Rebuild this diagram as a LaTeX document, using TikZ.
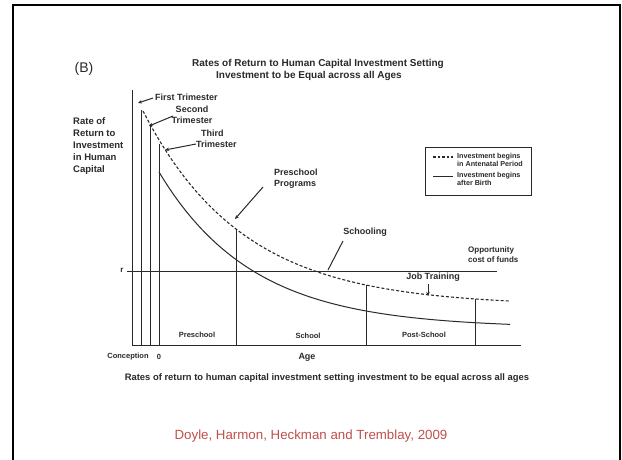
\documentclass[tikz,border=0pt]{standalone}
\usepackage{fontspec}
\setmainfont{Liberation Sans}
\usetikzlibrary{arrows.meta}
\definecolor{ink}{HTML}{2A2A2A}
\definecolor{citered}{HTML}{C0504D}
\tikzset{
  lbl/.style={font=\fontsize{9}{10.5}\selectfont\bfseries, text=ink, inner sep=0pt},
  smalllbl/.style={font=\fontsize{7.5}{8.5}\selectfont\bfseries, text=ink, inner sep=0pt},
  leglbl/.style={font=\fontsize{7.2}{8.4}\selectfont\bfseries, text=ink, inner sep=0pt, align=left, anchor=north west},
  graphline/.style={draw=ink, line width=1pt},
  dashcurve/.style={draw=ink, line width=1.1pt, dash pattern=on 3pt off 2pt},
  arr/.style={draw=ink, line width=1pt, -{Stealth[length=4pt,width=3.5pt]}}
}
\begin{document}
\begin{tikzpicture}[x=1pt,y=-1pt]
\useasboundingbox (0,0) rectangle (622,459);
\fill[white] (0,0) rectangle (622,459);
% slide frame
\draw[line width=2pt] (13,462) -- (13,5) -- (620,5) -- (620,462);

% panel label and title
\node[font=\fontsize{14}{16}\selectfont, text=ink, inner sep=0pt] (panel) at (84,69) {(B)};
\node[font=\fontsize{10}{12}\selectfont\bfseries, text=ink, inner sep=0pt] (title1) at (318,64) {Rates of Return to Human Capital Investment Setting};
\node[font=\fontsize{10}{12}\selectfont\bfseries, text=ink, inner sep=0pt] (title2) at (309,76) {Investment to be Equal across all Ages};

% y-axis label
\node[font=\fontsize{9.5}{12.2}\selectfont\bfseries, text=ink, inner sep=0pt, align=left, anchor=north west] (ylab) at (73,117) {Rate of\\Return to\\Investment\\in Human\\Capital};

% axes
\coordinate (yTop) at (132,90);
\coordinate (origin) at (132,345);
\coordinate (xEnd) at (521,345);
\draw[graphline] (yTop) -- (origin) -- (xEnd);

% r line
\node[font=\fontsize{8}{9}\selectfont\bfseries, text=ink, inner sep=0pt] (rlab) at (122,270) {r};
\coordinate (rStart) at (127,271);
\coordinate (rEnd) at (497,271);
\draw[graphline] (rStart) -- (rEnd);

% vertical lines
\coordinate (v1t) at (141,110); \coordinate (v1b) at (141,345);
\coordinate (v2t) at (150,125); \coordinate (v2b) at (150,345);
\coordinate (v3t) at (159,144); \coordinate (v3b) at (159,345);
\coordinate (v4t) at (236,229); \coordinate (v4b) at (236,345);
\coordinate (v5t) at (366,285); \coordinate (v5b) at (366,345);
\coordinate (v6t) at (475,299); \coordinate (v6b) at (475,345);
\foreach \a in {1,...,6} {\draw[graphline] (v\a t) -- (v\a b);}

% curves
\draw[dashcurve] plot[domain=143:510, samples=90, smooth] (\x, {306-195*exp(-0.01*(\x-143))});
\draw[graphline] plot[domain=159:510, samples=90, smooth] (\x, {328-156*exp(-0.0107*(\x-159))});

% region labels
\node[smalllbl] (preschool) at (197,335) {Preschool};
\node[smalllbl] (school) at (308,336) {School};
\node[smalllbl] (postschool) at (424,335) {Post-School};
\node[smalllbl] (conception) at (128,357) {Conception};
\node[smalllbl] (zero) at (159,357) {0};
\node[font=\fontsize{9}{10}\selectfont\bfseries, text=ink, inner sep=0pt] (age) at (307,357) {Age};

% caption
\node[font=\fontsize{9.4}{11}\selectfont\bfseries, text=ink, inner sep=0pt] (caption) at (327,378) {Rates of return to human capital investment setting investment to be equal across all ages};

% annotations
\node[lbl, anchor=west] (tFirst) at (155,97) {First Trimester};
\coordinate (aFirstS) at (153,98); \coordinate (aFirst) at (138,103);
\draw[arr] (aFirstS) -- (aFirst);

\node[lbl, align=center] (tSecond) at (192,115) {Second\\Trimester};
\coordinate (aSecondS) at (173,116); \coordinate (aSecond) at (149,126);
\draw[arr] (aSecondS) -- (aSecond);

\node[lbl, align=left, anchor=north west] (tThird) at (196,130) {\hspace*{5pt}Third\\Trimester};
\coordinate (aThirdS) at (196,144); \coordinate (aThird) at (165,150);
\draw[arr] (aThirdS) -- (aThird);

\node[lbl, align=left, anchor=north west] (tPre) at (274,169) {Preschool\\Programs};
\coordinate (aPreS) at (263,187); \coordinate (aPre) at (235,219);
\draw[arr] (aPreS) -- (aPre);

\node[lbl] (tSchooling) at (365,232) {Schooling};
\coordinate (aSchS) at (343,241); \coordinate (aSch) at (328,270);
\draw[graphline] (aSchS) -- (aSch);

\node[font=\fontsize{8}{10}\selectfont\bfseries, text=ink, inner sep=0pt, align=left, anchor=north west] (tOpp) at (468,246) {Opportunity\\cost of funds};

\node[lbl] (tJob) at (433,277) {Job Training};
\coordinate (aJobS) at (428,284); \coordinate (aJob) at (428,296);
\draw[arr] (aJobS) -- (aJob);

% legend
\node[draw=ink, line width=0.9pt, minimum width=106pt, minimum height=48pt, anchor=north west, inner sep=0pt] (legend) at (425,147) {};
\coordinate (ld1) at (433,157); \coordinate (ld2) at (453,157);
\draw[dashcurve, dash pattern=on 2.5pt off 2pt] (ld1) -- (ld2);
\coordinate (ls1) at (433,176); \coordinate (ls2) at (453,176);
\draw[graphline] (ls1) -- (ls2);
\node[leglbl] (leg1) at (457,153) {Investment begins\\in Antenatal Period};
\node[leglbl] (leg2) at (457,172) {Investment begins\\after Birth};

% citation
\node[font=\fontsize{13.3}{16}\selectfont, text=citered, inner sep=0pt] (cite) at (311,436) {Doyle, Harmon, Heckman and Tremblay, 2009};
\end{tikzpicture}
\end{document}
